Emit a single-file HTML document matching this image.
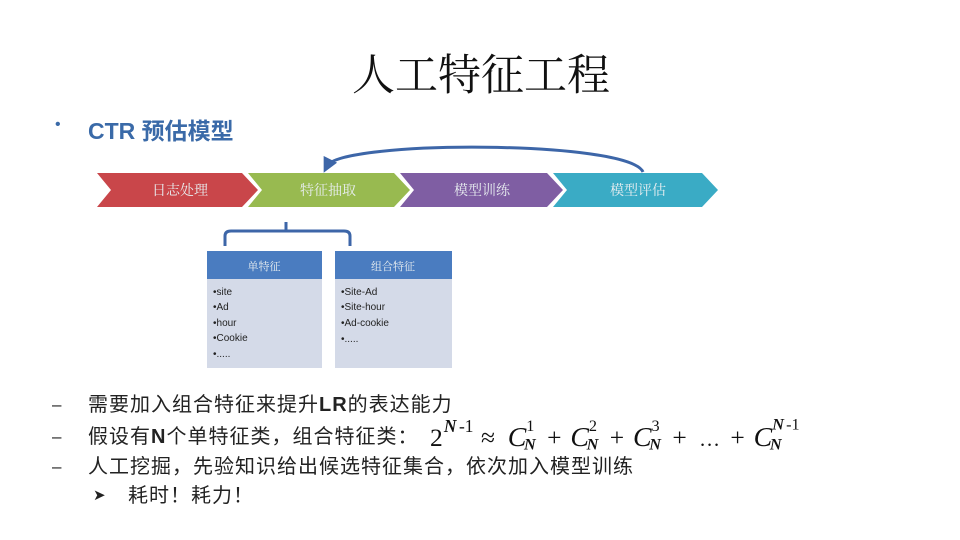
<!DOCTYPE html>
<html><head><meta charset="utf-8"><style>
body{margin:0;width:960px;height:540px;background:#fff;overflow:hidden;position:relative;font-family:"Liberation Sans","Noto Sans CJK SC",sans-serif}
.t{position:absolute;white-space:nowrap}
.l{font-size:20px;color:#222;line-height:26px;letter-spacing:1px}
</style></head><body>
<div class="t" style="left:352px;top:42px;font-size:43px;font-family:'Liberation Serif','Noto Serif CJK SC',serif;color:#111">人工特征工程</div>
<div class="t" style="left:55px;top:116px;font-size:16px;color:#3a6aa8">•</div>
<div class="t" style="left:88px;top:112px;font-size:23px;font-weight:bold;color:#3a6aa8">CTR 预估模型</div>
<svg style="position:absolute;left:0;top:0" width="960" height="540">
<defs><marker id="ah" markerWidth="5" markerHeight="5" refX="2.5" refY="2.5" orient="auto"><path d="M0,0 L5,2.5 L0,5z" fill="#3d66a8"/></marker></defs>
<polygon points="97,173 242,173 258,190 242,207 97,207 111,190" fill="#c9464a"/>
<polygon points="248,173 394,173 410,190 394,207 248,207 262,190" fill="#98ba50"/>
<polygon points="400,173 547,173 563,190 547,207 400,207 414,190" fill="#7f5ea3"/>
<polygon points="553,173 702,173 718,190 702,207 553,207 567,190" fill="#3aabc5"/>
<path d="M643,172 C630,140 340,140 327,166" fill="none" stroke="#3d66a8" stroke-width="3" marker-end="url(#ah)"/>
<path d="M286,222 V230 M225,246 V236 Q225,231 231,231 H344 Q350,231 350,236 V246" fill="none" stroke="#3d66a8" stroke-width="3"/>
<rect x="207" y="251" width="115" height="117" fill="#d4dae8"/>
<rect x="207" y="251" width="115" height="28" fill="#4a7cc0"/>
<rect x="335" y="251" width="117" height="117" fill="#d4dae8"/>
<rect x="335" y="251" width="117" height="28" fill="#4a7cc0"/>
<g font-family="Liberation Serif,Noto Serif CJK SC,serif" fill="#e8eef0" font-size="14" text-anchor="middle">
<text x="180" y="195">日志处理</text><text x="328" y="195">特征抽取</text><text x="482" y="195">模型训练</text><text x="638" y="195">模型评估</text>
<text x="264" y="270" font-size="11">单特征</text><text x="393" y="270" font-size="11">组合特征</text>
</g>
<g font-size="10" fill="#222">
<text x="213" y="295">•site</text><text x="213" y="310">•Ad</text><text x="213" y="326">•hour</text><text x="213" y="341">•Cookie</text><text x="213" y="357">•.....</text>
<text x="341" y="295">•Site-Ad</text><text x="341" y="310">•Site-hour</text><text x="341" y="326">•Ad-cookie</text><text x="341" y="342">•.....</text>
</g>
<g font-family="Liberation Serif,serif" fill="#111" transform="translate(430,446) scale(1.16) translate(-430,-446)">
<text x="430" y="446" font-size="22">2</text>
<text x="442" y="434" font-size="15" font-style="italic" font-weight="bold">N</text><text x="455" y="434" font-size="15">-1</text>
<text x="474" y="446" font-size="22">≈</text>
<text x="497" y="446" font-size="24" font-style="italic">C</text><text x="513" y="433" font-size="14">1</text><text x="511" y="449" font-size="14" font-style="italic" font-weight="bold">N</text>
<text x="531" y="446" font-size="22">+</text>
<text x="551" y="446" font-size="24" font-style="italic">C</text><text x="567" y="433" font-size="14">2</text><text x="565" y="449" font-size="14" font-style="italic" font-weight="bold">N</text>
<text x="585" y="446" font-size="22">+</text>
<text x="605" y="446" font-size="24" font-style="italic">C</text><text x="621" y="433" font-size="14">3</text><text x="619" y="449" font-size="14" font-style="italic" font-weight="bold">N</text>
<text x="639" y="446" font-size="22">+</text>
<text x="662" y="446" font-size="18">…</text>
<text x="689" y="446" font-size="22">+</text>
<text x="709" y="446" font-size="24" font-style="italic">C</text><text x="725" y="432" font-size="14" font-style="italic" font-weight="bold">N</text><text x="737" y="432" font-size="14">-1</text><text x="723" y="449" font-size="14" font-style="italic" font-weight="bold">N</text>
</g>
</svg>
<div class="t l" style="left:52px;top:392px;font-size:17px">–</div>
<div class="t l" style="left:88px;top:392px">需要加入组合特征来提升<b>LR</b>的表达能力</div>
<div class="t l" style="left:52px;top:424px;font-size:17px">–</div>
<div class="t l" style="left:88px;top:424px">假设有<b>N</b>个单特征类，组合特征类：</div>
<div class="t l" style="left:52px;top:454px;font-size:17px">–</div>
<div class="t l" style="left:88px;top:454px">人工挖掘，先验知识给出候选特征集合，依次加入模型训练</div>
<div class="t l" style="left:93px;top:483px;font-size:15px">➤</div>
<div class="t l" style="left:128px;top:483px">耗时！耗力！</div>
</body></html>
